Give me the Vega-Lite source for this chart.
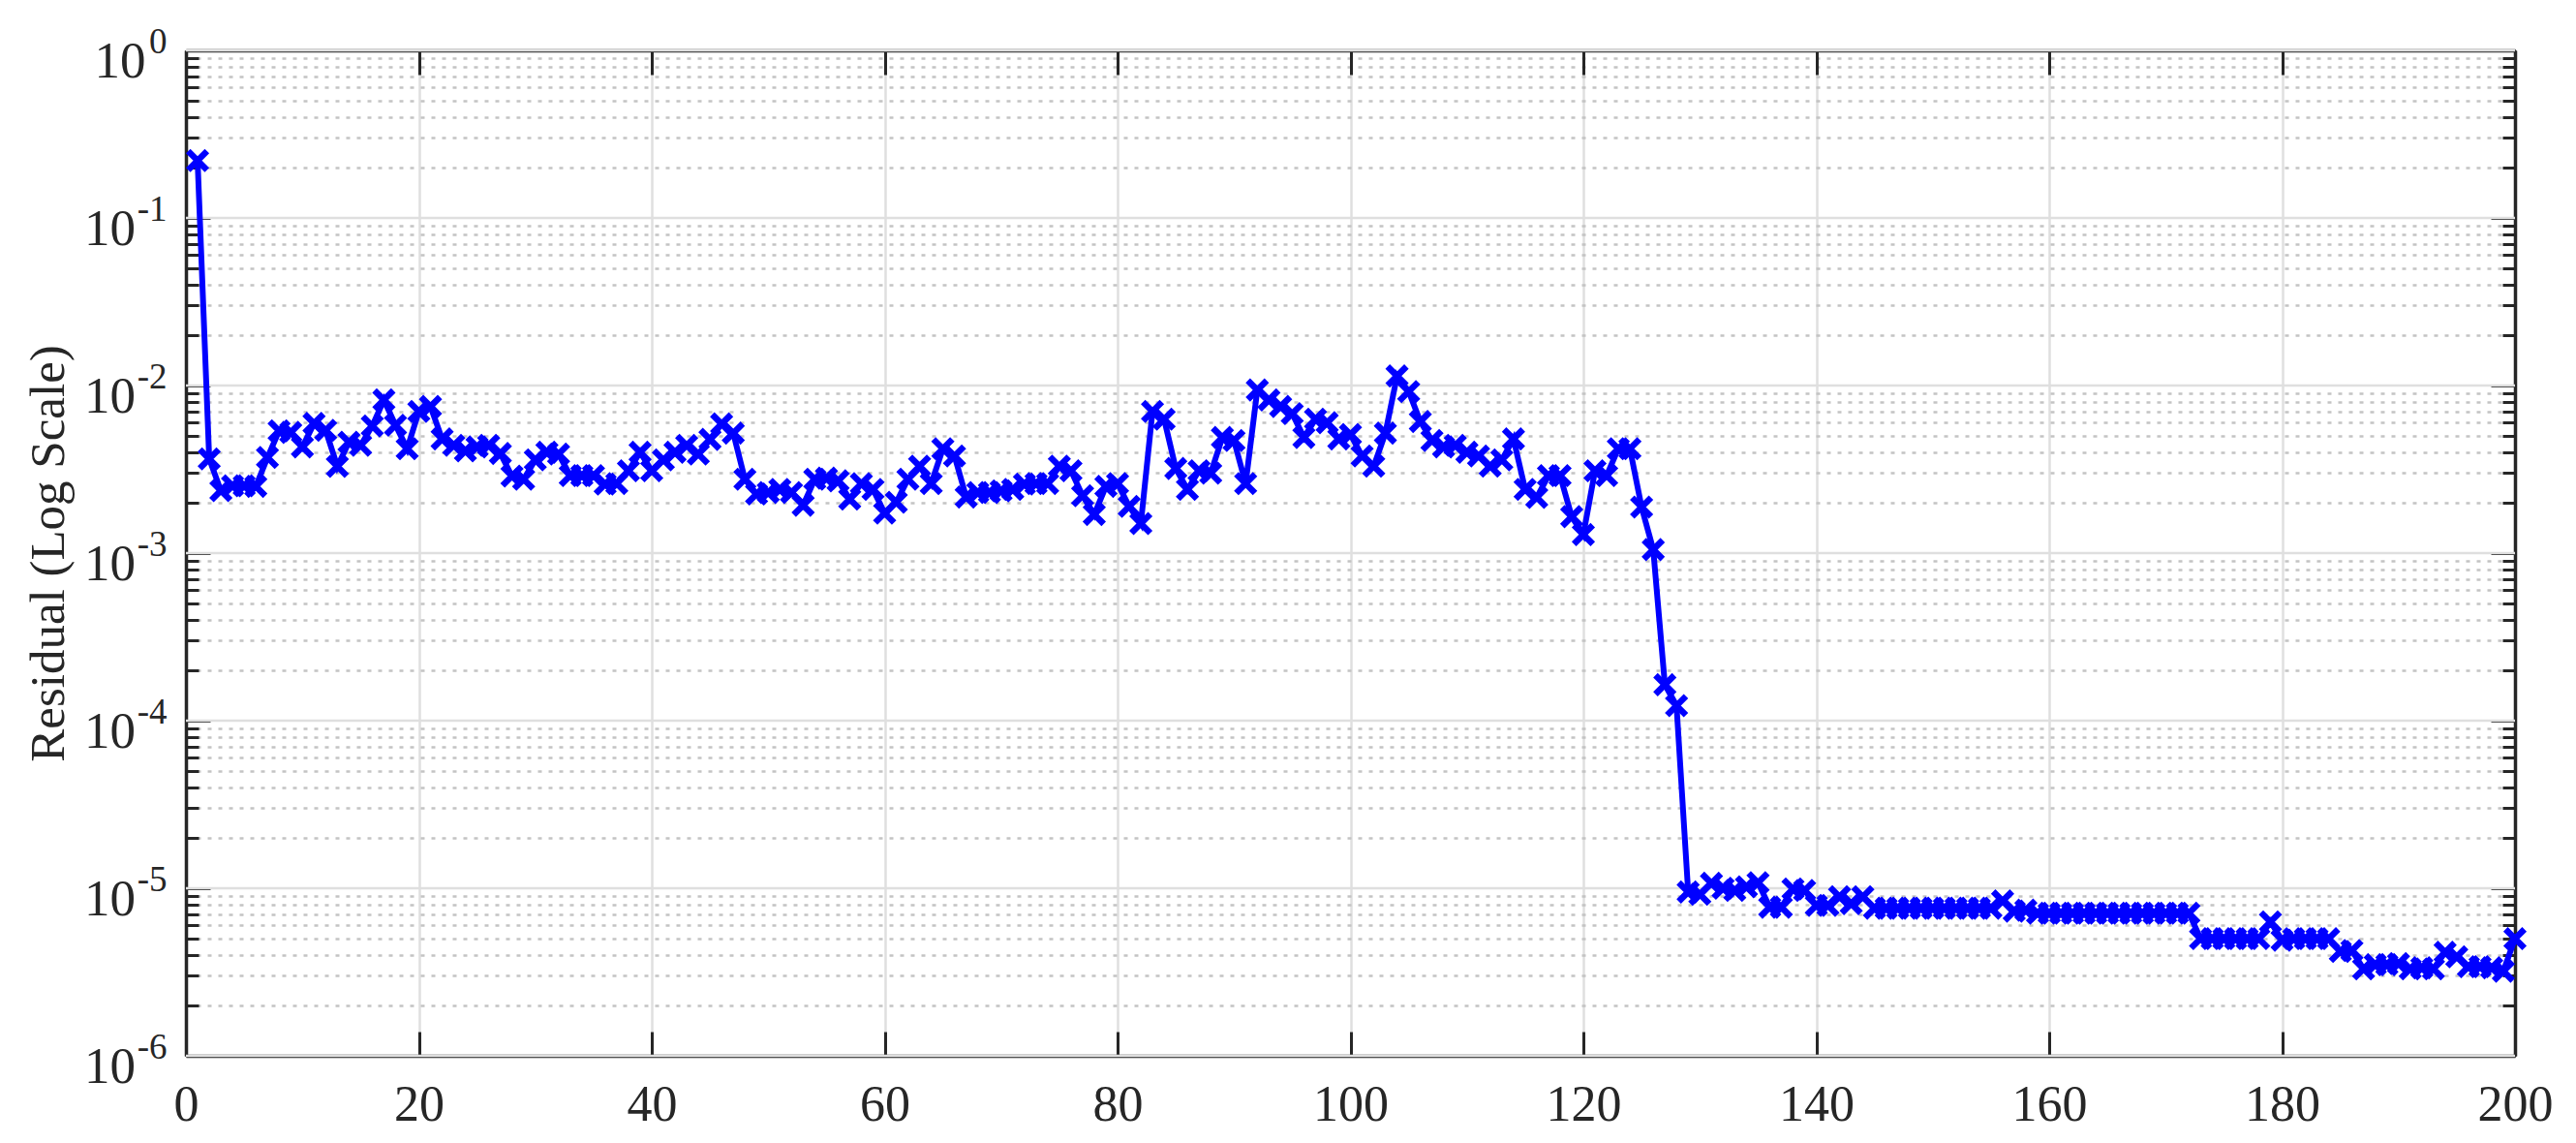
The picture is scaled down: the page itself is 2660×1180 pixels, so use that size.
{
  "$schema": "https://vega.github.io/schema/vega-lite/v6.json",
  "width": 2405,
  "height": 1038,
  "autosize": "none",
  "padding": {"left": 192, "top": 52, "right": 63, "bottom": 90},
  "background": "white",
  "config": {
    "view": {"stroke": null},
    "font": "Liberation Serif",
    "axis": {
      "labelFont": "Liberation Serif",
      "titleFont": "Liberation Serif",
      "labelFontSize": 52,
      "titleFontSize": 51,
      "titleFontWeight": "normal",
      "labelColor": "#262626",
      "titleColor": "#262626",
      "domainColor": "#262626",
      "domainWidth": 3.5,
      "tickColor": "#262626",
      "tickWidth": 3,
      "labelOverlap": false,
      "labelFlush": false,
      "labelBound": false
    }
  },
  "data": {"values": [
    {"iter":1,"residual":0.22},{"iter":2,"residual":0.00365},{"iter":3,"residual":0.00236},{"iter":4,"residual":0.00252},{"iter":5,"residual":0.00252},
    {"iter":6,"residual":0.0025},{"iter":7,"residual":0.00372},{"iter":8,"residual":0.00537},{"iter":9,"residual":0.00525},{"iter":10,"residual":0.0043},
    {"iter":11,"residual":0.00594},{"iter":12,"residual":0.0054},{"iter":13,"residual":0.00329},{"iter":14,"residual":0.00459},{"iter":15,"residual":0.0044},
    {"iter":16,"residual":0.00574},{"iter":17,"residual":0.0082},{"iter":18,"residual":0.0058},{"iter":19,"residual":0.0042},{"iter":20,"residual":0.007},
    {"iter":21,"residual":0.0075},{"iter":22,"residual":0.0048},{"iter":23,"residual":0.0044},{"iter":24,"residual":0.00407},{"iter":25,"residual":0.0043},
    {"iter":26,"residual":0.0044},{"iter":27,"residual":0.00393},{"iter":28,"residual":0.00288},{"iter":29,"residual":0.00276},{"iter":30,"residual":0.0036},
    {"iter":31,"residual":0.004},{"iter":32,"residual":0.0039},{"iter":33,"residual":0.0029},{"iter":34,"residual":0.0029},{"iter":35,"residual":0.0029},
    {"iter":36,"residual":0.00258},{"iter":37,"residual":0.0026},{"iter":38,"residual":0.0031},{"iter":39,"residual":0.004},{"iter":40,"residual":0.0031},
    {"iter":41,"residual":0.0036},{"iter":42,"residual":0.004},{"iter":43,"residual":0.0044},{"iter":44,"residual":0.0039},{"iter":45,"residual":0.00477},
    {"iter":46,"residual":0.0059},{"iter":47,"residual":0.0052},{"iter":48,"residual":0.00276},{"iter":49,"residual":0.00225},{"iter":50,"residual":0.0023},
    {"iter":51,"residual":0.0024},{"iter":52,"residual":0.0023},{"iter":53,"residual":0.00193},{"iter":54,"residual":0.00276},{"iter":55,"residual":0.0028},
    {"iter":56,"residual":0.0027},{"iter":57,"residual":0.0021},{"iter":58,"residual":0.0026},{"iter":59,"residual":0.0024},{"iter":60,"residual":0.00173},
    {"iter":61,"residual":0.00201},{"iter":62,"residual":0.00276},{"iter":63,"residual":0.0033},{"iter":64,"residual":0.0026},{"iter":65,"residual":0.0042},
    {"iter":66,"residual":0.0038},{"iter":67,"residual":0.00216},{"iter":68,"residual":0.0023},{"iter":69,"residual":0.0023},{"iter":70,"residual":0.00235},
    {"iter":71,"residual":0.0024},{"iter":72,"residual":0.00258},{"iter":73,"residual":0.0026},{"iter":74,"residual":0.0026},{"iter":75,"residual":0.0033},
    {"iter":76,"residual":0.0031},{"iter":77,"residual":0.0022},{"iter":78,"residual":0.0017},{"iter":79,"residual":0.0025},{"iter":80,"residual":0.0026},
    {"iter":81,"residual":0.0019},{"iter":82,"residual":0.0015},{"iter":83,"residual":0.007},{"iter":84,"residual":0.0063},{"iter":85,"residual":0.0032},
    {"iter":86,"residual":0.0024},{"iter":87,"residual":0.0031},{"iter":88,"residual":0.003},{"iter":89,"residual":0.0049},{"iter":90,"residual":0.0047},
    {"iter":91,"residual":0.0026},{"iter":92,"residual":0.0094},{"iter":93,"residual":0.0082},{"iter":94,"residual":0.0075},{"iter":95,"residual":0.0068},
    {"iter":96,"residual":0.0049},{"iter":97,"residual":0.0063},{"iter":98,"residual":0.006},{"iter":99,"residual":0.0048},{"iter":100,"residual":0.0051},
    {"iter":101,"residual":0.0038},{"iter":102,"residual":0.0033},{"iter":103,"residual":0.0052},{"iter":104,"residual":0.0114},{"iter":105,"residual":0.0092},
    {"iter":106,"residual":0.0061},{"iter":107,"residual":0.0047},{"iter":108,"residual":0.0043},{"iter":109,"residual":0.0044},{"iter":110,"residual":0.004},
    {"iter":111,"residual":0.0038},{"iter":112,"residual":0.0033},{"iter":113,"residual":0.0036},{"iter":114,"residual":0.0048},{"iter":115,"residual":0.0024},
    {"iter":116,"residual":0.00215},{"iter":117,"residual":0.0029},{"iter":118,"residual":0.0029},{"iter":119,"residual":0.00165},{"iter":120,"residual":0.00129},
    {"iter":121,"residual":0.0031},{"iter":122,"residual":0.0029},{"iter":123,"residual":0.0042},{"iter":124,"residual":0.0042},{"iter":125,"residual":0.00188},
    {"iter":126,"residual":0.00105},{"iter":127,"residual":0.000164},{"iter":128,"residual":0.000123},{"iter":129,"residual":9.5e-6},{"iter":130,"residual":9.2e-6},
    {"iter":131,"residual":1.07e-5},{"iter":132,"residual":1.0e-5},{"iter":133,"residual":9.7e-6},{"iter":134,"residual":1.02e-5},{"iter":135,"residual":1.08e-5},
    {"iter":136,"residual":7.7e-6},{"iter":137,"residual":7.7e-6},{"iter":138,"residual":9.9e-6},{"iter":139,"residual":9.7e-6},{"iter":140,"residual":7.9e-6},
    {"iter":141,"residual":7.9e-6},{"iter":142,"residual":8.9e-6},{"iter":143,"residual":8.1e-6},{"iter":144,"residual":8.9e-6},{"iter":145,"residual":7.6e-6},
    {"iter":146,"residual":7.6e-6},{"iter":147,"residual":7.6e-6},{"iter":148,"residual":7.6e-6},{"iter":149,"residual":7.6e-6},{"iter":150,"residual":7.6e-6},
    {"iter":151,"residual":7.6e-6},{"iter":152,"residual":7.6e-6},{"iter":153,"residual":7.6e-6},{"iter":154,"residual":7.6e-6},{"iter":155,"residual":7.6e-6},
    {"iter":156,"residual":8.4e-6},{"iter":157,"residual":7.3e-6},{"iter":158,"residual":7.4e-6},{"iter":159,"residual":7.1e-6},{"iter":160,"residual":7.1e-6},
    {"iter":161,"residual":7.1e-6},{"iter":162,"residual":7.1e-6},{"iter":163,"residual":7.1e-6},{"iter":164,"residual":7.1e-6},{"iter":165,"residual":7.1e-6},
    {"iter":166,"residual":7.1e-6},{"iter":167,"residual":7.1e-6},{"iter":168,"residual":7.1e-6},{"iter":169,"residual":7.1e-6},{"iter":170,"residual":7.1e-6},
    {"iter":171,"residual":7.1e-6},{"iter":172,"residual":7.1e-6},{"iter":173,"residual":5.0e-6},{"iter":174,"residual":5.0e-6},{"iter":175,"residual":5.0e-6},
    {"iter":176,"residual":5.0e-6},{"iter":177,"residual":5.0e-6},{"iter":178,"residual":5.0e-6},{"iter":179,"residual":6.3e-6},{"iter":180,"residual":4.9e-6},
    {"iter":181,"residual":5.0e-6},{"iter":182,"residual":5.0e-6},{"iter":183,"residual":5.0e-6},{"iter":184,"residual":5.0e-6},{"iter":185,"residual":4.2e-6},
    {"iter":186,"residual":4.25e-6},{"iter":187,"residual":3.3e-6},{"iter":188,"residual":3.5e-6},{"iter":189,"residual":3.5e-6},{"iter":190,"residual":3.55e-6},
    {"iter":191,"residual":3.3e-6},{"iter":192,"residual":3.35e-6},{"iter":193,"residual":3.3e-6},{"iter":194,"residual":4.15e-6},{"iter":195,"residual":3.9e-6},
    {"iter":196,"residual":3.4e-6},{"iter":197,"residual":3.4e-6},{"iter":198,"residual":3.35e-6},{"iter":199,"residual":3.2e-6},{"iter":200,"residual":5.0e-6}
  ]},
  "layer": [
    {
      "data": {"values": [{"decade":1e-6},{"decade":1e-5},{"decade":1e-4},{"decade":1e-3},{"decade":1e-2},{"decade":1e-1},{"decade":1}]},
      "mark": {"type": "rule", "color": "#dfdfdf", "strokeWidth": 2.5},
      "encoding": {
        "y": {
          "field": "decade", "type": "quantitative",
          "scale": {"type": "log", "domain": [1e-6, 1], "nice": false},
          "axis": {
            "orient": "left", "title": null,
            "values": [1e-6,1e-5,1e-4,1e-3,1e-2,0.1,1],
            "labelExpr": "(round(log(datum.value)/LN10) < 0 ? '-' : '') + abs(round(log(datum.value)/LN10))",
            "labelFontSize": 37,
            "labelBaseline": "alphabetic",
            "labelOffset": 2,
            "labelPadding": 20,
            "ticks": true, "tickSize": 0,
            "grid": false, "domain": false
          }
        }
      }
    },
    {
      "mark": {"type": "line", "color": "#0000ff", "strokeWidth": 6, "strokeJoin": "miter"},
      "encoding": {
        "x": {
          "field": "iter", "type": "quantitative",
          "scale": {"domain": [0, 200], "nice": false, "zero": false},
          "axis": {
            "orient": "bottom", "title": null,
            "values": [0,20,40,60,80,100,120,140,160,180,200],
            "grid": true, "gridColor": "#dfdfdf", "gridWidth": 2.5,
            "tickSize": -25, "labelPadding": 50, "labelBaseline": "top", "domain": true
          }
        },
        "y": {
          "field": "residual", "type": "quantitative",
          "axis": {
            "orient": "left",
            "title": "Residual (Log Scale)",
            "titlePadding": 10,
            "values": [1e-6,2e-6,3e-6,4e-6,5e-6,6e-6,7e-6,8e-6,9e-6,1e-5,2e-5,3e-5,4e-5,5e-5,6e-5,7e-5,8e-5,9e-5,1e-4,2e-4,3e-4,4e-4,5e-4,6e-4,7e-4,8e-4,9e-4,1e-3,2e-3,3e-3,4e-3,5e-3,6e-3,7e-3,8e-3,9e-3,1e-2,2e-2,3e-2,4e-2,5e-2,6e-2,7e-2,8e-2,9e-2,0.1,0.2,0.3,0.4,0.5,0.6,0.7,0.8,0.9,1],
            "labelExpr": "abs(log(datum.value)/LN10 - round(log(datum.value)/LN10)) < 0.001 ? '10' : ''",
            "labelFontSize": 53,
            "labelBaseline": "alphabetic",
            "labelOffset": 27,
            "labelPadding": {"condition": {"test": "datum.value > 0.999", "value": 67}, "value": 77.5},
            "grid": true,
            "gridColor": "#c4c4c4",
            "gridDash": [4, 7],
            "gridWidth": 2.5,
            "gridOpacity": {"condition": {"test": "abs(log(datum.value)/LN10 - round(log(datum.value)/LN10)) < 0.001", "value": 0}, "value": 1},
            "tickSize": {"condition": {"test": "abs(log(datum.value)/LN10 - round(log(datum.value)/LN10)) < 0.001", "value": -25}, "value": -13},
            "domain": true
          }
        }
      }
    },
    {
      "mark": {"type": "point", "shape": "M-1,-1L1,1M-1,1L1,-1", "color": "#0000ff", "filled": false, "strokeWidth": 6.5, "size": 380, "opacity": 1},
      "encoding": {
        "x": {
          "field": "iter", "type": "quantitative",
          "axis": {
            "orient": "top", "title": null,
            "values": [0,20,40,60,80,100,120,140,160,180,200],
            "labels": false, "grid": false, "tickSize": -25, "domain": true
          }
        },
        "y": {
          "field": "residual", "type": "quantitative",
          "axis": {
            "orient": "right", "title": null,
            "values": [1e-6,2e-6,3e-6,4e-6,5e-6,6e-6,7e-6,8e-6,9e-6,1e-5,2e-5,3e-5,4e-5,5e-5,6e-5,7e-5,8e-5,9e-5,1e-4,2e-4,3e-4,4e-4,5e-4,6e-4,7e-4,8e-4,9e-4,1e-3,2e-3,3e-3,4e-3,5e-3,6e-3,7e-3,8e-3,9e-3,1e-2,2e-2,3e-2,4e-2,5e-2,6e-2,7e-2,8e-2,9e-2,0.1,0.2,0.3,0.4,0.5,0.6,0.7,0.8,0.9,1],
            "labels": false, "grid": false,
            "tickSize": {"condition": {"test": "abs(log(datum.value)/LN10 - round(log(datum.value)/LN10)) < 0.001", "value": -25}, "value": -13},
            "domain": true
          }
        }
      }
    }
  ],
  "resolve": {"axis": {"x": "independent", "y": "independent"}}
}
